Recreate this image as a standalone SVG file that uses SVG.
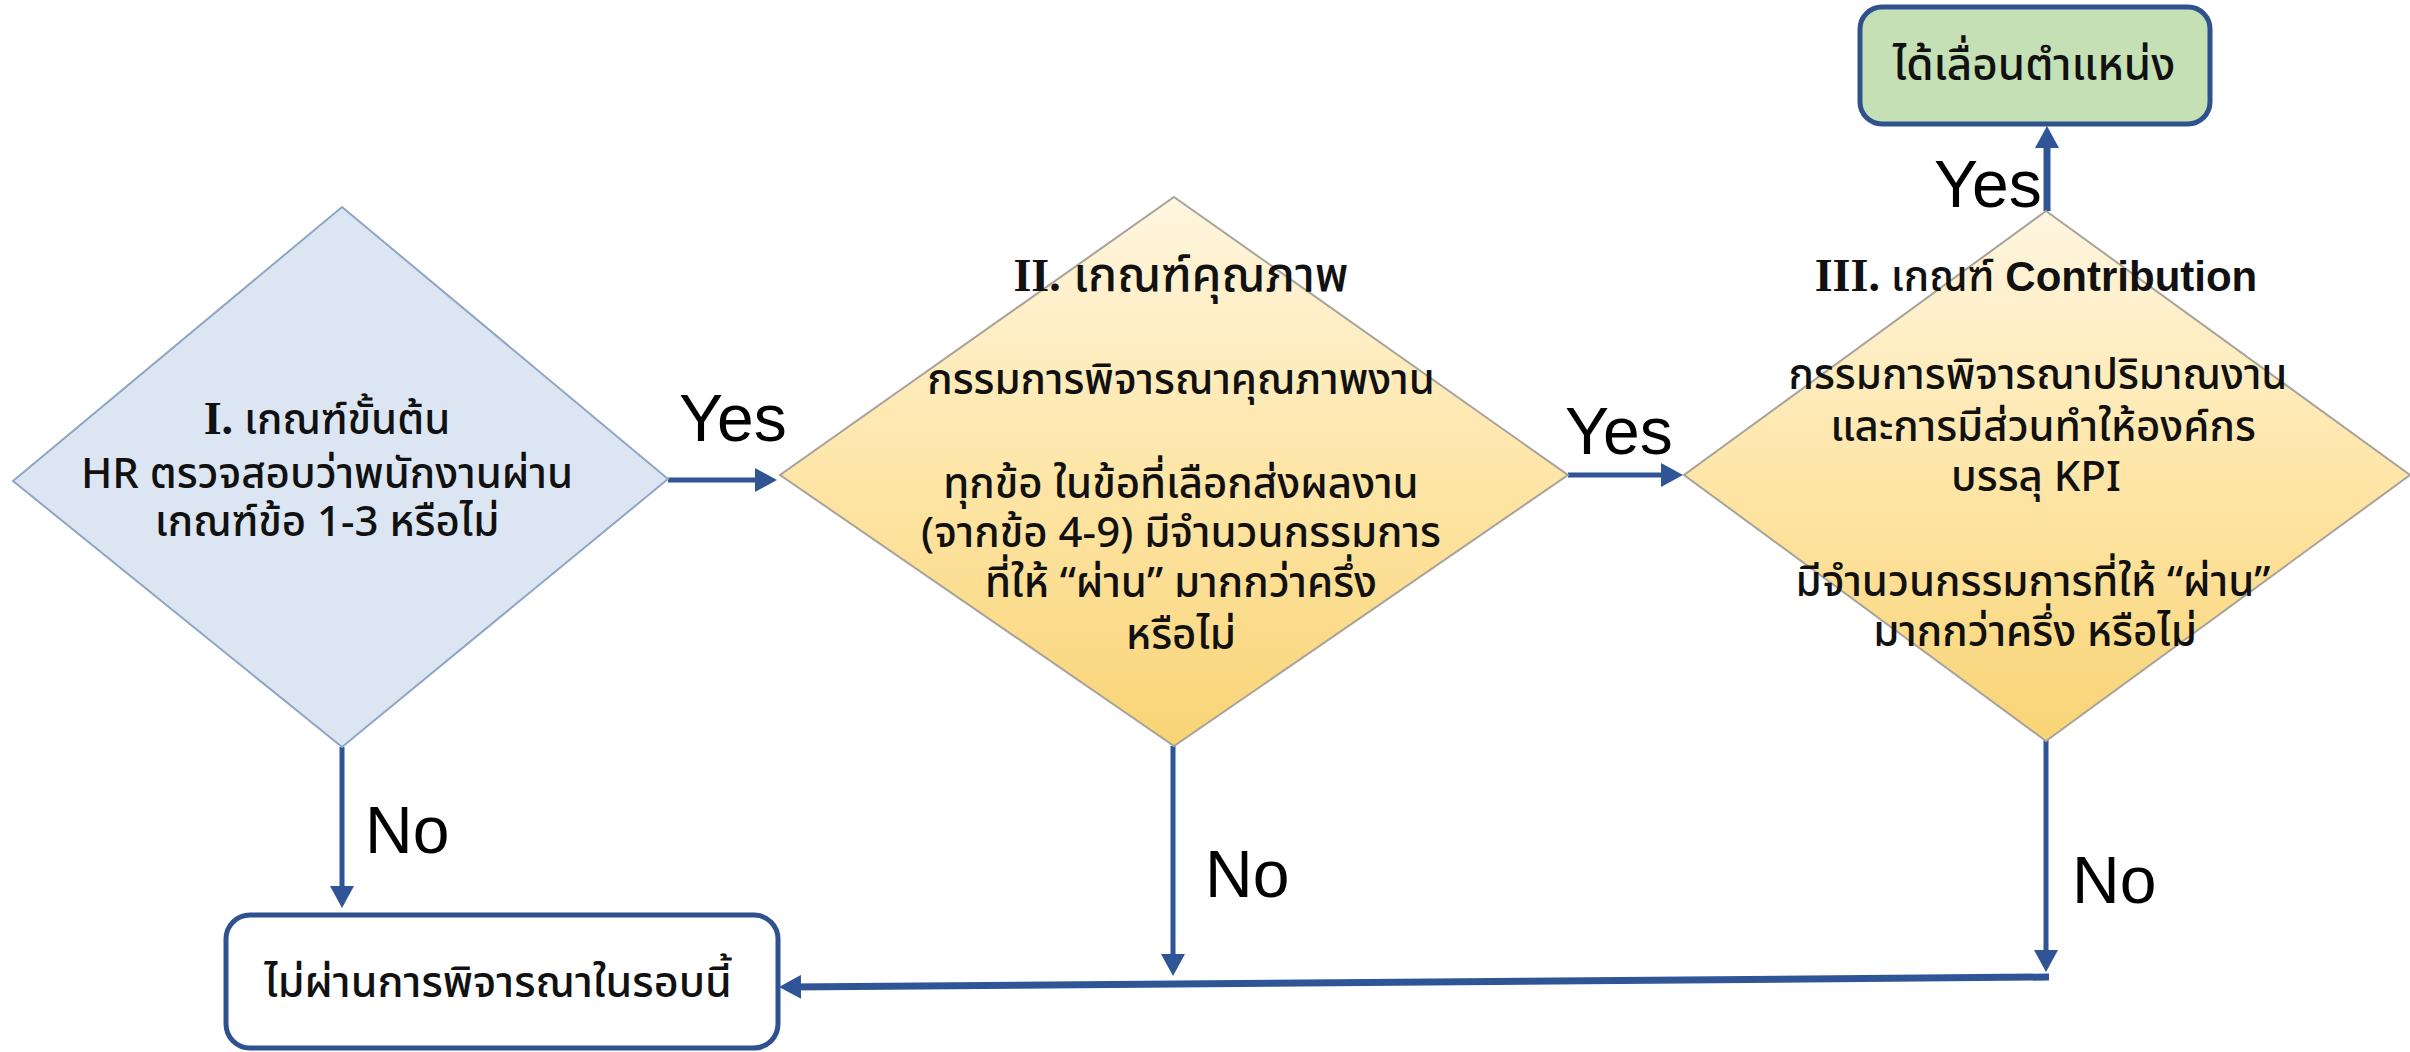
<svg xmlns="http://www.w3.org/2000/svg" width="2410" height="1052" viewBox="0 0 2410 1052">
<style>
  .th { font-family: Tahoma, "Noto Sans Thai", "Noto Sans", "DejaVu Sans", sans-serif; font-size: 42px; font-weight: 500; fill: #111; text-anchor: middle; }
  .t2 { font-size: 48px; }
  .bx1 { font-size: 44px; }
  .bx2 { font-size: 43px; }
  .rn { font-family: "Liberation Serif", serif; font-weight: bold; font-size: 46px; }
  .bs { font-family: "Liberation Sans", Arial, sans-serif; font-weight: bold; }
  .lbl { font-family: "Liberation Sans", Arial, sans-serif; font-size: 66px; fill: #000; }
  .conn { stroke: #2F5597; fill: none; stroke-width: 5; }
  .thick { stroke-width: 7; }
  .box { stroke: #2F528F; stroke-width: 5; }
</style>
<defs>
  <linearGradient id="yel" x1="0" y1="0" x2="0" y2="1">
    <stop offset="0" stop-color="#FFF6E0"/>
    <stop offset="0.5" stop-color="#FEE6A8"/>
    <stop offset="1" stop-color="#F9D476"/>
  </linearGradient>
  <marker id="arr" markerUnits="userSpaceOnUse" markerWidth="22" markerHeight="24" refX="12" refY="12" orient="auto">
    <path d="M0,0 L22,12 L0,24 z" fill="#2F5597"/>
  </marker>
</defs>

<g id="connectors">
  <line class="conn" x1="668" y1="480" x2="767" y2="480" marker-end="url(#arr)"/>
  <line class="conn" x1="1568" y1="475" x2="1673" y2="475" marker-end="url(#arr)"/>
  <line class="conn thick" x1="2047" y1="211" x2="2047" y2="136" marker-end="url(#arr)"/>
  <line class="conn" x1="342" y1="747" x2="342" y2="898" marker-end="url(#arr)"/>
  <line class="conn" x1="1173" y1="746" x2="1173" y2="966" marker-end="url(#arr)"/>
  <line class="conn" x1="2046" y1="739" x2="2046" y2="962" marker-end="url(#arr)"/>
  <line class="conn thick" x1="2049" y1="977" x2="789" y2="987" marker-end="url(#arr)"/>
  <text class="lbl" x="679" y="441">Yes</text>
  <text class="lbl" x="1565" y="454">Yes</text>
  <text class="lbl" x="1934" y="207">Yes</text>
  <text class="lbl" x="365" y="853">No</text>
  <text class="lbl" x="1205" y="897">No</text>
  <text class="lbl" x="2072" y="903">No</text>
</g>

<g id="node-criteria1">
  <polygon points="342,207 668,479 342,747 13,481" fill="#DCE6F2" stroke="#8FA6C4" stroke-width="2"/>
  <text class="th" x="327" y="434"><tspan class="rn">I.</tspan> เกณฑ์ขั้นต้น</text>
  <text class="th" x="327" y="488">HR ตรวจสอบว่าพนักงานผ่าน</text>
  <text class="th" x="327" y="536">เกณฑ์ข้อ 1-3 หรือไม่</text>
</g>

<g id="node-criteria2">
  <polygon points="1174,197 1568,475 1174,746 780,475" fill="url(#yel)" stroke="#A8A39A" stroke-width="2"/>
  <text class="th t2" x="1181" y="291"><tspan class="rn">II.</tspan> เกณฑ์คุณภาพ</text>
  <text class="th" x="1181" y="394">กรรมการพิจารณาคุณภาพงาน</text>
  <text class="th" x="1181" y="498">ทุกข้อ ในข้อที่เลือกส่งผลงาน</text>
  <text class="th" x="1181" y="547">(จากข้อ 4-9) มีจำนวนกรรมการ</text>
  <text class="th" x="1181" y="597">ที่ให้ “ผ่าน” มากกว่าครึ่ง</text>
  <text class="th" x="1181" y="649">หรือไม่</text>
</g>

<g id="node-criteria3">
  <polygon points="2046,211 2410,475 2046,741 1684,475" fill="url(#yel)" stroke="#A8A39A" stroke-width="2"/>
  <text class="th" x="2036" y="291"><tspan class="rn">III.</tspan> เกณฑ์ <tspan class="bs">Contribution</tspan></text>
  <text class="th" x="2038" y="389">กรรมการพิจารณาปริมาณงาน</text>
  <text class="th" x="2043" y="441">และการมีส่วนทำให้องค์กร</text>
  <text class="th" x="2036" y="491">บรรลุ KPI</text>
  <text class="th" x="2033" y="596">มีจำนวนกรรมการที่ให้ “ผ่าน”</text>
  <text class="th" x="2035" y="646">มากกว่าครึ่ง หรือไม่</text>
</g>

<g id="node-promoted">
  <rect class="box" x="1860" y="7" width="350" height="117" rx="22" fill="#C5E0B4"/>
  <text class="th bx1" x="2034" y="80">ได้เลื่อนตำแหน่ง</text>
</g>

<g id="node-notpassed">
  <rect class="box" x="226" y="915" width="552" height="133" rx="24" fill="#FFFFFF"/>
  <text class="th bx2" x="498" y="997">ไม่ผ่านการพิจารณาในรอบนี้</text>
</g>
</svg>
